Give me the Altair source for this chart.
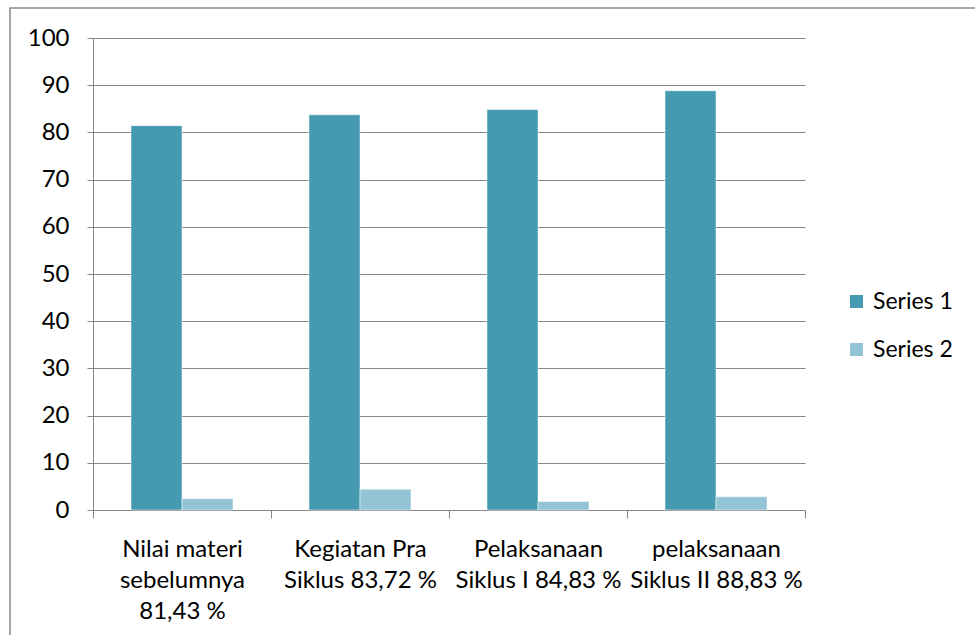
import altair as alt
import pandas as pd

categories = [
    "Nilai materi|sebelumnya|81,43 %",
    "Kegiatan Pra|Siklus 83,72 %",
    "Pelaksanaan|Siklus I 84,83 %",
    "pelaksanaan|Siklus II 88,83 %",
]
series_names = ["Series 1", "Series 2"]
series1 = [81.43, 83.72, 84.83, 88.83]
series2 = [2.4, 4.4, 1.8, 2.8]
colors = ["#4599B1", "#93C4D6"]
y_ticks = list(range(0, 101, 10))

rows = []
for c, a, b in zip(categories, series1, series2):
    rows.append({"category": c, "series": series_names[0], "value": a})
    rows.append({"category": c, "series": series_names[1], "value": b})
df = pd.DataFrame(rows)

FONT = "Lato"
GRID = "#878787"

bars = alt.Chart(df).mark_bar(stroke="white", strokeWidth=0.5).encode(
    x=alt.X(
        "category:N",
        sort=categories,
        scale=alt.Scale(paddingInner=0, paddingOuter=0),
        axis=alt.Axis(
            title=None,
            labelAngle=0,
            labelExpr="split(datum.label, '|')",
            tickBand="extent",
            tickSize=8,
            tickColor=GRID,
            domainColor=GRID,
            labelPadding=19,
            labelFont=FONT,
            labelFontSize=24,
            labelLineHeight=31,
            labelColor="#000000",
            grid=False,
        ),
    ),
    xOffset=alt.XOffset(
        "series:N", sort=series_names, scale=alt.Scale(paddingInner=0, paddingOuter=0.745)
    ),
    y=alt.Y(
        "value:Q",
        scale=alt.Scale(domain=[0, 100], nice=False),
        axis=alt.Axis(
            title=None,
            values=y_ticks,
            tickSize=6,
            tickColor=GRID,
            domainColor=GRID,
            gridColor=GRID,
            labelPadding=18,
            labelFont=FONT,
            labelFontSize=24,
            labelColor="#000000",
        ),
    ),
    color=alt.Color(
        "series:N",
        sort=series_names,
        scale=alt.Scale(domain=series_names, range=colors),
        legend=alt.Legend(
            title=None,
            orient="none",
            legendX=752,
            legendY=252,
            symbolType="square",
            symbolSize=169,
            symbolStrokeWidth=0,
            labelFont=FONT,
            labelFontSize=23,
            labelColor="#000000",
            rowPadding=24,
            padding=0,
            labelOffset=5,
        ),
    ),
)

border = alt.Chart(pd.DataFrame({"v": [0]})).mark_rect(
    fill=None, stroke="#8a8a8a", strokeWidth=1.5, clip=False
).encode(
    x=alt.value(-83), x2=alt.value(1000), y=alt.value(-30), y2=alt.value(700)
)

chart = (
    alt.layer(border, bars)
    .properties(
        width=712,
        height=472,
        padding={"left": 93, "top": 38, "right": 170, "bottom": 125},
        autosize=alt.AutoSizeParams(type="none"),
        background="white",
    )
    .configure_view(stroke=None)
)

chart.save("out.html", embed_options={"renderer": "svg", "actions": False})
